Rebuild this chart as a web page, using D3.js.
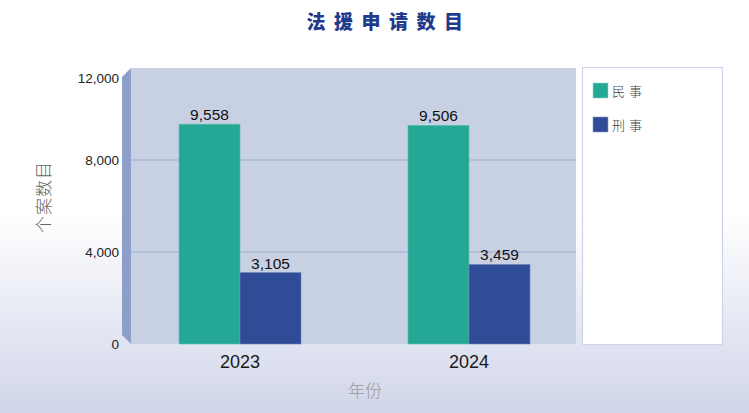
<!DOCTYPE html>
<html>
<head>
<meta charset="utf-8">
<script src="https://cdn.jsdelivr.net/npm/d3@7"></script>
<style>
  body { margin: 0; }
  #chart svg { display: block; }
</style>
</head>
<body>
<div id="chart"></div>
<script>
// data
var years = ["2023", "2024"];
var seriesNames = ["民事", "刑事"];
var civil = [9558, 9506];
var criminal = [3105, 3459];
var yTicks = [0, 4000, 8000, 12000];

var colors = ["#25a795", "#314c96"];

var width = 749, height = 413;

// plot area (front face of the box)
var plot = {left: 131, right: 576, top: 68, bottom: 344};
var depth = 9;

var svg = d3.select("#chart")
  .append("svg")
    .attr("width", width)
    .attr("height", height);

// background gradient
var defs = svg.append("defs");
var grad = defs.append("linearGradient")
    .attr("id", "bg")
    .attr("x1", 0).attr("y1", 0).attr("x2", 0).attr("y2", 1);
grad.append("stop").attr("offset", "0%").attr("stop-color", "#ffffff");
grad.append("stop").attr("offset", "52%").attr("stop-color", "#ffffff");
grad.append("stop").attr("offset", "100%").attr("stop-color", "#d0d5e9");

svg.append("rect")
    .attr("width", width)
    .attr("height", height)
    .attr("fill", "url(#bg)");

var y = d3.scaleLinear()
    .domain([0, 12000])
    .range([plot.bottom, plot.top]);

var x0 = d3.scaleBand()
    .domain(years)
    .range([125.5, 583.5]);

var x1 = d3.scaleBand()
    .domain(seriesNames)
    .range([0, 122]);

// plot background + 3d side wall
svg.append("rect")
    .attr("x", plot.left)
    .attr("y", plot.top)
    .attr("width", plot.right - plot.left)
    .attr("height", plot.bottom - plot.top)
    .attr("fill", "#c8d0e4");

svg.append("path")
    .attr("d", "M" + (plot.left - depth) + "," + (plot.top + depth)
      + "L" + plot.left + "," + plot.top
      + "L" + plot.left + "," + plot.bottom
      + "L" + (plot.left - depth) + "," + (plot.bottom - depth) + "Z")
    .attr("fill", "#8d9ec9");

// gridlines
svg.append("g")
  .selectAll("line")
  .data(yTicks.filter(function(d) { return d > 0 && d < 12000; }))
  .enter()
  .append("line")
    .attr("x1", plot.left)
    .attr("x2", plot.right)
    .attr("y1", function(d) { return y(d); })
    .attr("y2", function(d) { return y(d); })
    .attr("stroke", "#adb8d6")
    .attr("stroke-width", 1.6);

// y axis labels
var yAxis = svg.append("g")
    .attr("transform", "translate(119,0)")
    .call(d3.axisLeft(y).tickValues(yTicks).tickSize(0).tickPadding(0)
      .tickFormat(d3.format(",")));
yAxis.select(".domain").remove();
yAxis.selectAll(".tick text")
    .attr("font-family", "'Liberation Sans', Arial, sans-serif")
    .attr("font-size", 13.5)
    .attr("fill", "#222")
    .attr("dy", function(d) { return d === 12000 ? "1.05em" : "0.35em"; });

// bars
var rows = years.map(function(yr, i) {
  return {year: yr, values: [civil[i], criminal[i]]};
});

var groups = svg.append("g")
  .selectAll("g")
  .data(rows)
  .enter()
  .append("g")
    .attr("transform", function(d) {
      return "translate(" + (x0(d.year) + (x0.bandwidth() - 122) / 2) + ",0)";
    });

groups.selectAll("rect")
  .data(function(d) { return d.values.map(function(v, i) { return {key: seriesNames[i], value: v, i: i}; }); })
  .enter()
  .append("rect")
    .attr("x", function(d) { return x1(d.key); })
    .attr("y", function(d) { return y(d.value); })
    .attr("width", x1.bandwidth())
    .attr("height", function(d) { return y(0) - y(d.value); })
    .attr("fill", function(d) { return colors[d.i]; })
    .attr("stroke", function(d) { return d.i === 0 ? "#5cc2b2" : "#6f82b8"; })
    .attr("stroke-width", 0.6);

groups.selectAll("text")
  .data(function(d) { return d.values.map(function(v, i) { return {key: seriesNames[i], value: v}; }); })
  .enter()
  .append("text")
    .attr("x", function(d) { return x1(d.key) + x1.bandwidth() / 2; })
    .attr("y", function(d) { return y(d.value) - 4; })
    .attr("text-anchor", "middle")
    .attr("font-family", "'Liberation Sans', Arial, sans-serif")
    .attr("font-size", 15.5)
    .attr("fill", "#111")
    .text(function(d) { return d3.format(",")(d.value); });

// x axis labels
svg.append("g")
  .selectAll("text")
  .data(years)
  .enter()
  .append("text")
    .attr("x", function(d) { return x0(d) + x0.bandwidth() / 2; })
    .attr("y", 368)
    .attr("text-anchor", "middle")
    .attr("font-family", "'Liberation Sans', Arial, sans-serif")
    .attr("font-size", 18)
    .attr("fill", "#1a1a1a")
    .text(function(d) { return d; });

// axis titles
svg.append("text")
    .attr("transform", "translate(50,197) rotate(-90)")
    .attr("text-anchor", "middle")
    .attr("font-family", "'Noto Sans CJK SC', sans-serif")
    .attr("font-weight", 300)
    .attr("font-size", 17)
    .attr("letter-spacing", 1)
    .attr("fill", "#666")
    .text("个案数目");

svg.append("text")
    .attr("x", 365)
    .attr("y", 397)
    .attr("text-anchor", "middle")
    .attr("font-family", "'Noto Sans CJK SC', sans-serif")
    .attr("font-weight", 300)
    .attr("font-size", 17)
    .attr("fill", "#999")
    .text("年份");

// title
svg.append("text")
    .attr("x", 389)
    .attr("y", 29)
    .attr("text-anchor", "middle")
    .attr("font-family", "'Noto Sans CJK SC', sans-serif")
    .attr("font-weight", 900)
    .attr("font-size", 19)
    .attr("letter-spacing", 8.5)
    .attr("fill", "#1f3b8c")
    .text("法援申请数目");

// legend
var legend = svg.append("g");
legend.append("rect")
    .attr("x", 582.5)
    .attr("y", 67.5)
    .attr("width", 140)
    .attr("height", 277)
    .attr("fill", "#ffffff")
    .attr("stroke", "#cdd3ea")
    .attr("stroke-width", 1.2);

var items = legend.selectAll("g.item")
  .data(seriesNames)
  .enter()
  .append("g")
    .attr("class", "item")
    .attr("transform", function(d, i) { return "translate(593," + (83 + i * 34) + ")"; });

items.append("rect")
    .attr("width", 15)
    .attr("height", 15)
    .attr("fill", function(d, i) { return colors[i]; })
    .attr("stroke", function(d, i) { return i === 0 ? "#8fd6cb" : "#8a99c8"; })
    .attr("stroke-width", 0.6);

items.append("text")
    .attr("x", 19)
    .attr("y", 12.5)
    .attr("font-family", "'Noto Sans CJK SC', sans-serif")
    .attr("font-weight", 300)
    .attr("font-size", 13)
    .attr("letter-spacing", 4)
    .attr("fill", "#444")
    .text(function(d) { return d; });
</script>
</body>
</html>
